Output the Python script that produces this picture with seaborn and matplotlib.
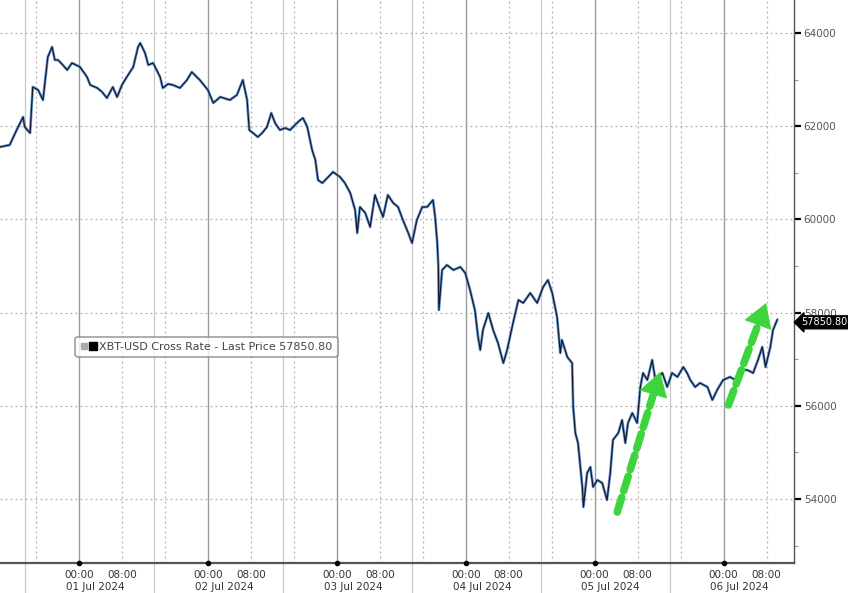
import matplotlib
matplotlib.use("Agg")
import matplotlib.pyplot as plt
import matplotlib.transforms as mtransforms
from matplotlib.lines import Line2D
from matplotlib.legend_handler import HandlerTuple
import numpy as np
import seaborn as sns

sns.set_theme(style="white")
plt.rcParams['font.family'] = ['Liberation Sans Narrow', 'DejaVu Sans']

# hours since 01 Jul 2024 00:00
hours = [
    -14.7, -12.9, -11.6, -10.4, -10.1, -9.1, -8.6, -7.6, -6.7, -5.8, -5.0, -4.5,
    -3.9, -3.0, -2.2, -1.3, 0.2, 1.5, 2.1, 3.4, 4.3, 5.2, 6.3, 7.1, 8.0, 8.9,
    10.1, 11.0, 11.4, 12.3, 12.9, 13.8, 15.1, 15.6, 16.6, 17.5, 18.8, 20.1,
    21.0, 22.5, 24.0, 25.0, 26.3, 28.1, 29.4, 30.5, 31.3, 31.7, 32.4, 33.3,
    34.1, 35.0, 35.8, 36.5, 37.4, 38.4, 39.3, 40.2, 41.2, 41.7, 42.5, 43.0,
    43.4, 44.0, 44.5, 45.3, 46.2, 47.3, 48.6, 49.5, 50.5, 51.4, 51.8, 52.3,
    53.3, 54.2, 55.1, 56.1, 56.6, 57.5, 58.5, 59.4, 60.3, 61.3, 62.0, 62.9,
    63.9, 64.8, 65.9, 66.3, 66.7, 66.9, 67.0, 67.6, 68.5, 69.7, 71.0, 71.9,
    72.8, 73.7, 74.3, 74.7, 75.2, 76.2, 77.1, 78.0, 79.0, 79.7, 80.8, 81.8,
    82.7, 84.0, 85.3, 86.4, 87.3, 88.1, 89.0, 89.6, 89.9, 90.9, 91.8, 92.0,
    92.4, 92.9, 93.7, 93.9, 94.6, 95.2, 95.7, 96.5, 97.4, 98.3, 98.9, 99.4,
    100.4, 101.1, 101.7, 102.2, 103.0, 103.9, 104.5, 105.0, 105.8, 106.7,
    107.3, 108.6, 109.5, 110.4, 111.4, 112.5, 113.2, 113.8, 114.7, 115.6,
    117.0, 117.9, 118.8, 119.9, 121.2, 122.2, 123.1, 124.4, 125.5, 126.4,
    127.2, 127.8, 128.7, 129.2, 130.0,
]
prices = [
    61554, 61597, 61918, 62197, 61983, 61854, 62841, 62777, 62562, 63485, 63700, 63421,
    63421, 63313, 63206, 63356, 63270, 63056, 62884, 62820, 62734, 62605, 62841, 62627, 62884, 63056,
    63270, 63700, 63785, 63571, 63313, 63356, 63056, 62820, 62906, 62884, 62820, 62991,
    63163, 62991, 62777, 62498, 62627, 62562, 62670, 62991, 62562, 61918, 61854, 61768,
    61854, 61983, 62283, 62069, 61918, 61961, 61918, 62026, 62133, 62176, 61983, 61704,
    61489, 61275, 60845, 60781, 60888, 61017, 60910, 60781, 60566, 60202, 59708, 60266,
    60137, 59837, 60523, 60202, 60051, 60523, 60352, 60266, 59987, 59708, 59493, 59987,
    60266, 60266, 60416, 60051, 59493, 58978, 58056, 58914, 59021, 58914, 58978, 58850,
    58485, 58056, 57476, 57197, 57626, 57991, 57626, 57347, 56918, 57197, 57777, 58270,
    58206, 58420, 58206, 58549, 58699, 58420, 57905, 57133, 57412, 57047, 56918, 55974,
    55416, 55201, 54257, 53828, 54558, 54686, 54257, 54407, 54343, 53978, 54558, 55266,
    55416, 55695, 55201, 55631, 55845, 55631, 56403, 56704, 56553, 56983,
    56553, 56704, 56403, 56704, 56618, 56832, 56704, 56553, 56403, 56489,
    56403, 56124, 56339, 56553, 56618, 56553, 56768, 56768, 56704, 56983,
    57262, 56832, 57262, 57626, 57850.8,
]
last_price = 57850.80
day_labels = ["01 Jul 2024", "02 Jul 2024", "03 Jul 2024",
              "04 Jul 2024", "05 Jul 2024", "06 Jul 2024"]
y_ticks = [54000, 56000, 58000, 60000, 62000, 64000]

fig = plt.figure(figsize=(8.48, 5.93), dpi=100)
ax = fig.add_axes([0.0, 0.0506, 0.9363, 0.9494])
ax.set_xlim(-14.7, 133.1)
ax.set_ylim(52626, 64708)

# grid: midnights solid, 08/16 dotted, day separators light
for d in range(6):
    ax.axvline(24 * d, color="#9a9a9a", lw=1.0, zorder=0)
    ax.axvline(24 * d - 10, color="#c8c8c8", lw=0.9, zorder=0,
               ymin=-0.06, clip_on=False)
for d in range(-1, 6):
    for h in (8, 16):
        xh = 24 * d + h
        if -14.7 < xh < 133:
            ax.axvline(xh, color="#b0b0b0", lw=0.9, ls=(0, (1.5, 2.5)), zorder=0)
for yv in y_ticks:
    ax.axhline(yv, color="#b0b0b0", lw=0.9, ls=(0, (1.5, 2.5)), zorder=0)

# price line: blue halo under a dark line
sns.lineplot(x=hours, y=prices, ax=ax, color="#5a8ccc", lw=2.0, alpha=0.85, zorder=3)
sns.lineplot(x=hours, y=prices, ax=ax, color="#101a30", lw=0.9, zorder=4)

# green dashed arrows
green = "#3ed43e"
arrows = [((100.2, 53720), (108.2, 56725), (-4.2, -13.8)),
          ((120.9, 56017), (127.9, 58206), (-5.0, -13.5))]
for tail, tip, back in arrows:
    ax.annotate("", xy=tip, xytext=tail, zorder=5,
                arrowprops=dict(arrowstyle="-", color=green, lw=5.5,
                                ls=(0, (2.0, 0.9)), shrinkA=0, shrinkB=12))
    ax.annotate("", xy=tip, xytext=back, textcoords="offset points", zorder=5,
                arrowprops=dict(arrowstyle="-|>,head_length=0.9,head_width=0.55",
                                mutation_scale=18, color=green, lw=0.5,
                                shrinkA=0, shrinkB=0))

# axes styling
for s in ("left", "top"):
    ax.spines[s].set_visible(False)
ax.spines["right"].set_color("#555555")
ax.spines["right"].set_linewidth(1.0)
ax.spines["bottom"].set_color("#555555")
ax.spines["bottom"].set_linewidth(1.6)

ax.yaxis.tick_right()
ax.set_yticks(y_ticks)
ax.set_yticklabels([str(v) for v in y_ticks])
ax.set_yticks([53000, 55000, 57000, 59000, 61000, 63000], minor=True)
ax.tick_params(axis="y", which="major", length=5, width=1.6, color="black",
               labelsize=7.5, labelcolor="#555555", pad=2)
ax.tick_params(axis="y", which="minor", length=3, width=0.8, color="#999999")

xt, xl = [], []
for d in range(6):
    xt += [24 * d, 24 * d + 8]
    xl += ["00:00", "08:00"]
ax.set_xticks(xt)
ax.set_xticklabels(xl)
ax.set_xticks([h for h in range(-12, 133, 4) if h % 24 not in (0, 8)], minor=True)
ax.tick_params(axis="x", which="major", length=3, width=1.2, color="black",
               labelsize=7.5, labelcolor="#333333", pad=2)
ax.tick_params(axis="x", which="minor", length=2.5, width=0.8, color="#777777")
for d in range(6):
    ax.plot(24 * d, 52626, marker="o", ms=3, color="black", clip_on=False, zorder=6)

trans = mtransforms.blended_transform_factory(ax.transData, ax.transAxes)
for d, lab in enumerate(day_labels):
    ax.text(24 * d + 3, -0.042, lab, transform=trans, ha="center", va="center",
            fontsize=7.5, color="#333333")

# last price tag
ytrans = mtransforms.blended_transform_factory(ax.transAxes, ax.transData)
ax.text(1.009, last_price - 60, f"{last_price:.2f}", transform=ytrans, ha="left",
        va="center", fontsize=7, color="white", zorder=10,
        bbox=dict(boxstyle="larrow,pad=0.15", fc="black", ec="black"))

# legend
h1 = Line2D([], [], marker="s", color="#aaaaaa", ls="none", ms=4.5)
h2 = Line2D([], [], marker="s", color="black", ls="none", ms=6)
leg = ax.legend([(h1, h2)], [f"XBT-USD Cross Rate - Last Price {last_price:.2f}"],
                handler_map={tuple: HandlerTuple(ndivide=None, pad=0.2)},
                loc="upper left", bbox_to_anchor=(0.088, 0.412), fontsize=8,
                frameon=True, fancybox=True, handlelength=1.4, handletextpad=0.3,
                borderpad=0.45)
leg.get_frame().set_edgecolor("#888888")
leg.get_frame().set_linewidth(1.2)
for t in leg.get_texts():
    t.set_color("#444444")

fig.savefig("out.png", dpi=100)
